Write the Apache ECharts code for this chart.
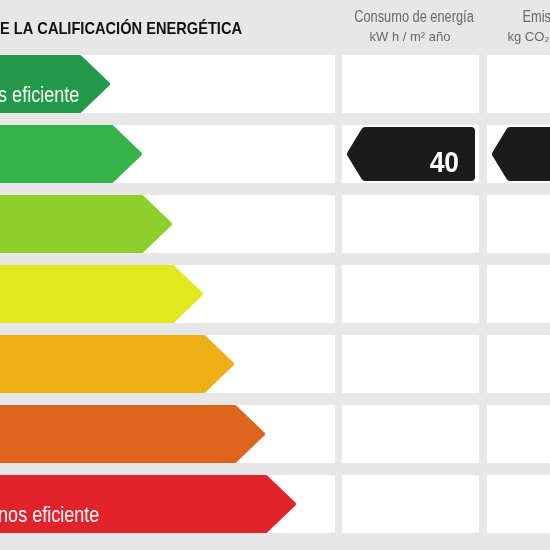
<!DOCTYPE html>
<html>
<head>
<meta charset="utf-8">
<script src="https://cdn.jsdelivr.net/npm/echarts@6/dist/echarts.min.js"></script>
<style>
  html, body { margin: 0; padding: 0; background: #e7e7e7; }
  #chart { width: 550px; height: 550px; }
</style>
</head>
<body>
<div id="chart"></div>
<script>
// clases energeticas, de la mas eficiente a la menos eficiente
const clases = ['A', 'B', 'C', 'D', 'E', 'F', 'G'];
const longitudFlecha = [110, 142, 172, 203, 234, 265, 296];
const coloresClase = ['#239a4a', '#37b449', '#8dcf2c', '#e1e91e', '#edaf14', '#df651e', '#e3232b'];
const textoFlecha = ['Más eficiente', '', '', '', '', '', 'Menos eficiente'];

// calificacion del inmueble: [clase, columna, valor]
const calificacion = [
  ['B', 0, '40'],
  ['B', 1, '']
];

// no hay fuente estrecha instalada: se comprime en horizontal
const FUENTE = '"Liberation Sans", Arial, sans-serif';
const PANEL = 58 / 70;              // alto de fila respecto a la banda
const COLUMNAS = [[342, 479], [487, 624]];
const FIN_FILA = 335;

const chart = echarts.init(document.getElementById('chart'));

function renderFondo(params, api) {
  const idx = api.value(0);
  const c = api.coord([0, idx]);
  const h = api.size([0, 1])[1] * PANEL;
  const y = c[1] - h / 2;
  const rects = [[0, FIN_FILA]].concat(COLUMNAS).map(function (r) {
    const a = api.coord([r[0], idx])[0];
    const b = api.coord([r[1], idx])[0];
    return { type: 'rect', shape: { x: a, y: y, width: b - a, height: h }, style: { fill: '#ffffff' } };
  });
  return { type: 'group', children: rects };
}

function renderFlecha(params, api) {
  const idx = api.value(0);
  const c = api.coord([0, idx]);
  const tip = api.coord([api.value(1), idx]);
  const h = api.size([0, 1])[1] * PANEL;
  const top = c[1] - h / 2, bot = c[1] + h / 2;
  const d = h * 0.52;
  const ins = 2;
  const color = coloresClase[idx];
  const children = [{
    type: 'polygon',
    shape: { points: [[c[0] - 20, top + ins], [tip[0] - d, top + ins], [tip[0] - ins, c[1]], [tip[0] - d, bot - ins], [c[0] - 20, bot - ins]] },
    style: { fill: color, stroke: color, lineWidth: 4, lineJoin: 'round' }
  }];
  if (textoFlecha[idx]) {
    children.push({
      type: 'text',
      x: c[0] - 27, y: c[1] + 12, scaleX: 0.82,
      style: {
        x: 0, y: 0, text: textoFlecha[idx],
        fill: '#ffffff', font: '22px ' + FUENTE, align: 'left', verticalAlign: 'middle'
      }
    });
  }
  return { type: 'group', children: children };
}

function renderIndicador(params, api) {
  const idx = api.value(0);
  const col = COLUMNAS[api.value(1)];
  const valor = calificacion[params.dataIndex][2];
  const c = api.coord([col[0], idx]);
  const x0 = c[0] + 5;
  const x1 = api.coord([col[1], idx])[0] - 4;
  const h = api.size([0, 1])[1] * PANEL - 4;
  const top = c[1] - h / 2, bot = c[1] + h / 2;
  const ins = 4, d = 18;
  return {
    type: 'group',
    children: [{
      type: 'polygon',
      shape: { points: [[x0 + ins, c[1]], [x0 + d, top + ins], [x1 - ins, top + ins], [x1 - ins, bot - ins], [x0 + d, bot - ins]] },
      style: { fill: '#1b1b1b', stroke: '#1b1b1b', lineWidth: 8, lineJoin: 'round' }
    }, {
      type: 'text',
      x: x1 - 16, y: c[1] + 10, scaleX: 0.88,
      style: {
        x: 0, y: 0, text: valor,
        fill: '#ffffff', font: 'bold 30px ' + FUENTE, align: 'right', verticalAlign: 'middle'
      }
    }]
  };
}

function texto(t, x, y, font, color, align, sx) {
  return {
    type: 'text', x: x, y: y, scaleX: sx,
    style: { x: 0, y: 0, text: t, font: font, fill: color, align: align, verticalAlign: 'middle' }
  };
}

const option = {
  backgroundColor: '#e7e7e7',
  animation: false,
  grid: { left: 0, right: 0, top: 49, bottom: 11 },
  xAxis: { type: 'value', min: 0, max: 550, show: false },
  yAxis: { type: 'category', data: clases, inverse: true, show: false },
  graphic: [
    texto('ESCALA DE LA CALIFICACIÓN ENERGÉTICA', 242, 29, 'bold 17px ' + FUENTE, '#111111', 'right', 0.86),
    texto('Consumo de energía', 414, 17.5, '16px ' + FUENTE, '#6a6a6a', 'center', 0.8),
    texto('kW h / m² año', 410, 37, '13px ' + FUENTE, '#6a6a6a', 'center', 1),
    texto('Emisiones', 552, 17.5, '16px ' + FUENTE, '#6a6a6a', 'center', 0.8),
    texto('kg CO₂ / m² año', 554, 37, '13px ' + FUENTE, '#6a6a6a', 'center', 1)
  ],
  series: [
    {
      type: 'custom', renderItem: renderFondo, silent: true,
      encode: { y: 0 },
      data: clases.map(function (c, i) { return [i]; })
    },
    {
      type: 'custom', renderItem: renderFlecha, silent: true,
      encode: { x: 1, y: 0 },
      data: clases.map(function (c, i) { return [i, longitudFlecha[i]]; })
    },
    {
      type: 'custom', renderItem: renderIndicador, silent: true,
      encode: { y: 0 },
      data: calificacion.map(function (d) { return [clases.indexOf(d[0]), d[1]]; })
    }
  ]
};

chart.setOption(option);
</script>
</body>
</html>
